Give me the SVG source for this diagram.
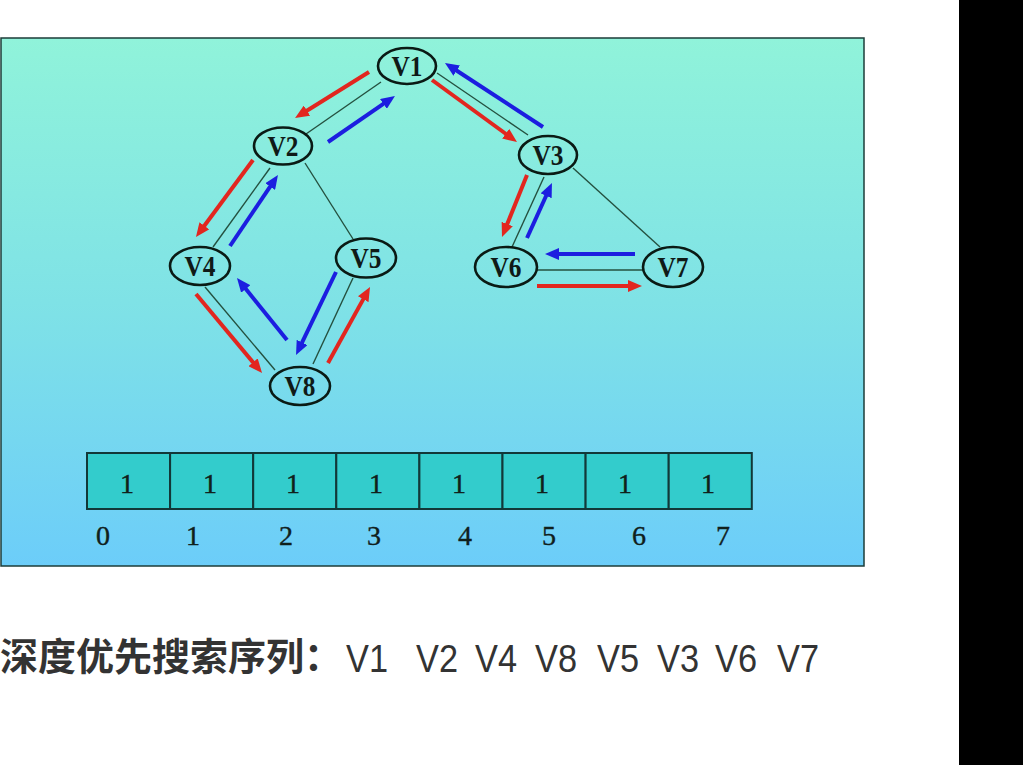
<svg xmlns="http://www.w3.org/2000/svg" width="1023" height="765" viewBox="0 0 1023 765">
<style>
.edge{stroke:#24503f;stroke-width:1.4;fill:none}
.red{stroke:#e2261f;stroke-width:4;fill:none;marker-end:url(#ahr)}
.blue{stroke:#1c1ee0;stroke-width:4;fill:none;marker-end:url(#ahb)}
.node ellipse{fill:url(#bg);stroke:#0a1a14;stroke-width:2.6}
.node text{font-family:"Liberation Serif",serif;font-size:29px;font-weight:bold;fill:#0f1a17;text-anchor:middle}
.cell{fill:#33cccc;stroke:#123838;stroke-width:2}
.num{font-family:"Liberation Serif",serif;font-size:28px;fill:#10201c;stroke:#10201c;stroke-width:0.4;text-anchor:middle}
.seq{font-family:"Liberation Sans",Arial,sans-serif;font-size:38px;fill:#333}
</style>
<defs>
<linearGradient id="bg" gradientUnits="userSpaceOnUse" x1="0" y1="38" x2="0" y2="566">
<stop offset="0" stop-color="#90f3da"/>
<stop offset="0.5" stop-color="#7fe2e6"/>
<stop offset="1" stop-color="#6ccdf9"/>
</linearGradient>
<marker id="ahr" markerUnits="userSpaceOnUse" markerWidth="14" markerHeight="12" refX="3" refY="6" orient="auto"><path d="M0,0 L14,6 L0,12 z" fill="#e2261f"/></marker>
<marker id="ahb" markerUnits="userSpaceOnUse" markerWidth="14" markerHeight="12" refX="3" refY="6" orient="auto"><path d="M0,0 L14,6 L0,12 z" fill="#1c1ee0"/></marker>
</defs>
<rect width="1023" height="765" fill="#fff"/>
<rect x="959" y="0" width="64" height="765" fill="#000"/>
<rect id="panel" x="1" y="38" width="863" height="528" fill="url(#bg)" stroke="#1d3c38" stroke-width="1.5"/>
<g id="connectors">
<line class="edge" x1="381" y1="82" x2="306" y2="134"/>
<line class="edge" x1="437" y1="73" x2="528" y2="135"/>
<line class="edge" x1="270" y1="168" x2="213" y2="247"/>
<line class="edge" x1="305" y1="163" x2="353" y2="239"/>
<line class="edge" x1="205" y1="287" x2="275" y2="370"/>
<line class="edge" x1="353" y1="278" x2="313" y2="364"/>
<line class="edge" x1="544" y1="177" x2="512" y2="247"/>
<line class="edge" x1="573" y1="168" x2="660" y2="247"/>
<line class="edge" x1="537" y1="270" x2="643" y2="270"/>
<line class="red" x1="369" y1="72" x2="304.4" y2="112.2"/>
<line class="blue" x1="328" y1="142" x2="385.9" y2="102.2"/>
<line class="red" x1="432" y1="80" x2="508.1" y2="135.5"/>
<line class="blue" x1="543" y1="127" x2="454.2" y2="69"/>
<line class="red" x1="253" y1="160" x2="202.5" y2="228.2"/>
<line class="blue" x1="230" y1="246" x2="271.8" y2="184.1"/>
<line class="red" x1="196" y1="294" x2="255" y2="364.6"/>
<line class="blue" x1="287" y1="340" x2="243.9" y2="286.6"/>
<line class="blue" x1="336" y1="272" x2="300.8" y2="345.1"/>
<line class="red" x1="328" y1="363" x2="364.7" y2="296.6"/>
<line class="red" x1="527" y1="175" x2="506.1" y2="226.8"/>
<line class="blue" x1="527" y1="238" x2="547.4" y2="193"/>
<line class="blue" x1="635" y1="254" x2="556" y2="254"/>
<line class="red" x1="537" y1="286" x2="631" y2="286"/>
</g>
<g id="V1" class="node"><ellipse cx="407" cy="66" rx="29" ry="18"/><text x="407" y="76" textLength="31" lengthAdjust="spacingAndGlyphs">V1</text></g>
<g id="V2" class="node"><ellipse cx="283" cy="146" rx="29" ry="18.5"/><text x="283" y="156" textLength="31" lengthAdjust="spacingAndGlyphs">V2</text></g>
<g id="V3" class="node"><ellipse cx="548" cy="155" rx="29" ry="19"/><text x="548" y="165" textLength="31" lengthAdjust="spacingAndGlyphs">V3</text></g>
<g id="V4" class="node"><ellipse cx="200" cy="266" rx="30" ry="19"/><text x="200" y="276" textLength="31" lengthAdjust="spacingAndGlyphs">V4</text></g>
<g id="V5" class="node"><ellipse cx="366" cy="258" rx="30" ry="19.5"/><text x="366" y="268" textLength="31" lengthAdjust="spacingAndGlyphs">V5</text></g>
<g id="V6" class="node"><ellipse cx="506" cy="267" rx="31" ry="20"/><text x="506" y="277" textLength="31" lengthAdjust="spacingAndGlyphs">V6</text></g>
<g id="V7" class="node"><ellipse cx="673" cy="267" rx="30" ry="20"/><text x="673" y="277" textLength="31" lengthAdjust="spacingAndGlyphs">V7</text></g>
<g id="V8" class="node"><ellipse cx="300" cy="386" rx="30" ry="19"/><text x="300" y="396" textLength="31" lengthAdjust="spacingAndGlyphs">V8</text></g>
<g id="array">
<rect class="cell" x="87" y="453" width="83.1" height="56"/>
<rect class="cell" x="170.1" y="453" width="83.1" height="56"/>
<rect class="cell" x="253.2" y="453" width="83.1" height="56"/>
<rect class="cell" x="336.3" y="453" width="83.1" height="56"/>
<rect class="cell" x="419.4" y="453" width="83.1" height="56"/>
<rect class="cell" x="502.5" y="453" width="83.1" height="56"/>
<rect class="cell" x="585.6" y="453" width="83.1" height="56"/>
<rect class="cell" x="668.7" y="453" width="83.1" height="56"/>
<text class="num" x="127" y="493">1</text>
<text class="num" x="210" y="493">1</text>
<text class="num" x="293" y="493">1</text>
<text class="num" x="376" y="493">1</text>
<text class="num" x="459" y="493">1</text>
<text class="num" x="542" y="493">1</text>
<text class="num" x="625" y="493">1</text>
<text class="num" x="708" y="493">1</text>
<text class="num" x="103" y="545">0</text>
<text class="num" x="193" y="545">1</text>
<text class="num" x="286" y="545">2</text>
<text class="num" x="374" y="545">3</text>
<text class="num" x="465" y="545">4</text>
<text class="num" x="549" y="545">5</text>
<text class="num" x="639" y="545">6</text>
<text class="num" x="723" y="545">7</text>
</g>
<g id="caption">
<text x="0" y="670" font-family="'Noto Sans CJK SC',sans-serif" font-size="38" font-weight="bold" fill="#333">深度优先搜索序列：</text>
<text class="seq" x="346" y="672" textLength="42" lengthAdjust="spacingAndGlyphs">V1</text>
<text class="seq" x="416" y="672" textLength="42" lengthAdjust="spacingAndGlyphs">V2</text>
<text class="seq" x="475" y="672" textLength="42" lengthAdjust="spacingAndGlyphs">V4</text>
<text class="seq" x="535" y="672" textLength="42" lengthAdjust="spacingAndGlyphs">V8</text>
<text class="seq" x="597" y="672" textLength="42" lengthAdjust="spacingAndGlyphs">V5</text>
<text class="seq" x="657" y="672" textLength="42" lengthAdjust="spacingAndGlyphs">V3</text>
<text class="seq" x="715" y="672" textLength="42" lengthAdjust="spacingAndGlyphs">V6</text>
<text class="seq" x="777" y="672" textLength="42" lengthAdjust="spacingAndGlyphs">V7</text>
</g>
</svg>
